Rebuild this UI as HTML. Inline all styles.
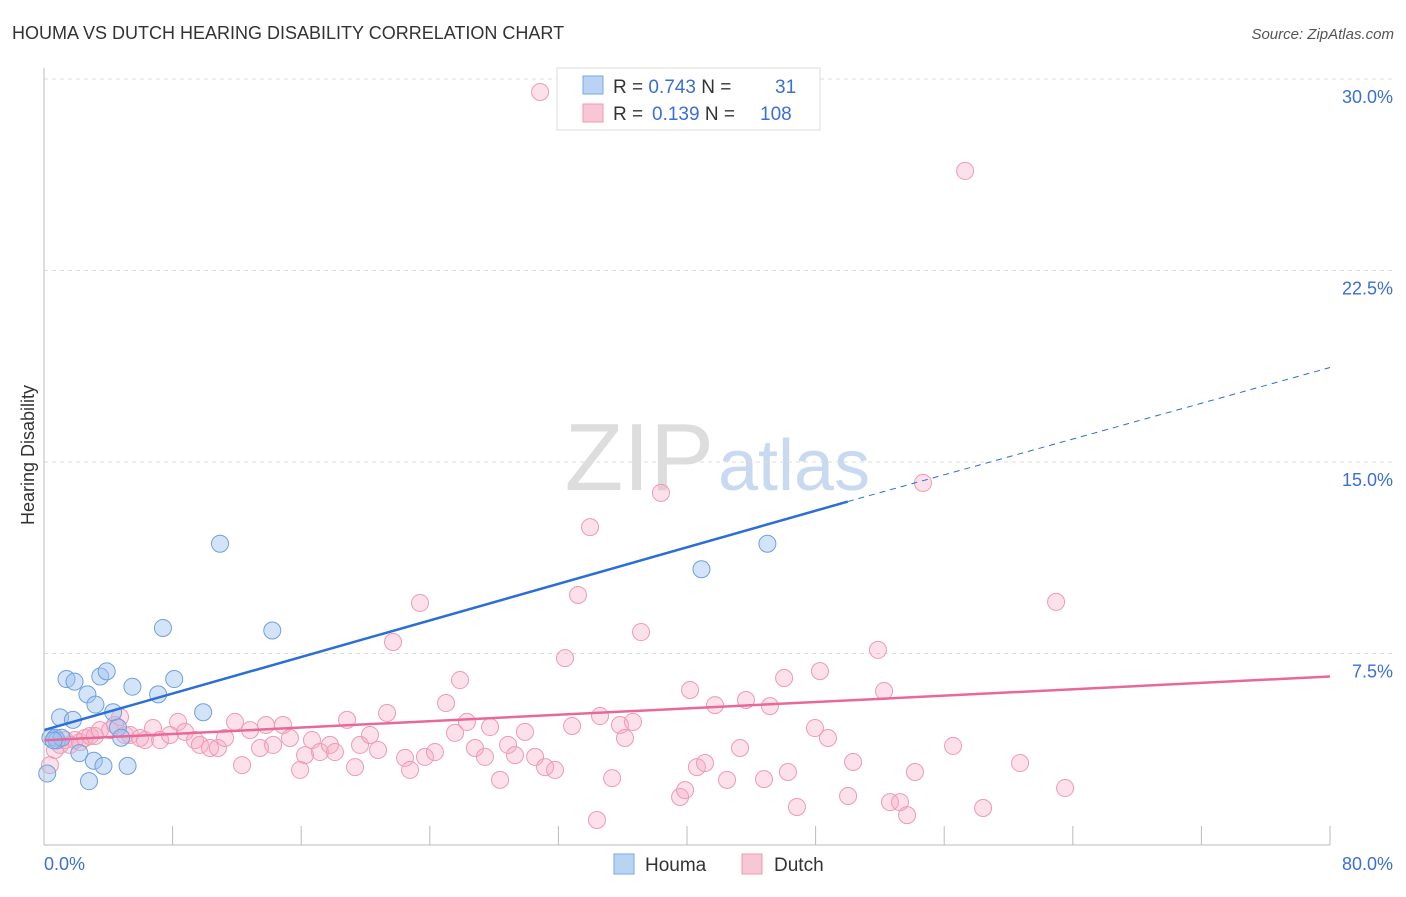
<!DOCTYPE html>
<html><head><meta charset="utf-8"><style>
body{margin:0;background:#fff;font-family:"Liberation Sans",sans-serif;}
svg text{font-family:"Liberation Sans",sans-serif;}
</style></head><body>
<svg id="c" width="1406" height="892">
<text x="12" y="39" font-size="18" fill="#333">HOUMA VS DUTCH HEARING DISABILITY CORRELATION CHART</text>
<text x="1394" y="39" font-size="15" fill="#555" font-style="italic" text-anchor="end">Source: ZipAtlas.com</text>
<text x="714" y="490" font-size="96" fill="#ddd" font-family="Liberation Serif" text-anchor="end">ZIP</text>
<text x="718" y="490" font-size="72" fill="#c8d9f0">atlas</text>
<text x="34" y="455" font-size="18" fill="#333" text-anchor="middle" transform="rotate(-90 34 455)">Hearing Disability</text>
<g id="grid"></g><g id="pts"></g><g id="lines"></g>
<line x1="44" y1="68" x2="44" y2="845" stroke="#bbb"/>
<line x1="44" y1="845" x2="1330" y2="845" stroke="#bbb"/>
<text x="44" y="870" font-size="18" fill="#3b6fd4">0.0%</text>
<text x="1393" y="870" font-size="18" fill="#3b6fd4" text-anchor="end">80.0%</text>
<g>
<rect x="557" y="68" width="263" height="62" fill="#fff" stroke="#ddd"/>
<rect x="583" y="76" width="20" height="18" fill="#b9d3f5" stroke="#7aa6e6"/>
<rect x="583" y="104" width="20" height="18" fill="#f9c6d5" stroke="#ee9ab3"/>
<text x="613" y="93" font-size="19" fill="#333">R = <tspan fill="#3b6fd4">0.743</tspan>   N = <tspan fill="#3b6fd4" x="775">31</tspan></text>
<text x="613" y="120" font-size="19" fill="#333">R = <tspan fill="#3b6fd4" x="652">0.139</tspan>   N = <tspan fill="#3b6fd4" x="760">108</tspan></text>
</g>
<g>
<rect x="614" y="854" width="20" height="20" fill="#b9d3f5" stroke="#7aa6e6"/>
<text x="645" y="871" font-size="19" fill="#333">Houma</text>
<rect x="742" y="854" width="20" height="20" fill="#f9c6d5" stroke="#ee9ab3"/>
<text x="774" y="871" font-size="19" fill="#333">Dutch</text>
</g>
</svg>
<script>
const yTicks=[7.5,15,22.5,30];
const xTicks=[0,8,16,24,32,40,48,56,64,72,80];
const houmaX=[0.2,0.4,0.7,0.8,1.0,1.4,1.8,1.9,2.2,2.7,2.8,3.1,3.2,3.5,3.7,3.9,4.3,4.6,4.8,5.2,5.5,7.1,7.4,8.1,9.9,10.95,14.2,40.9,45.0,1.1,0.6];
const houmaY=[2.8,4.2,4.2,4.1,5.0,6.5,4.9,6.4,3.6,5.9,2.5,3.3,5.5,6.6,3.1,6.8,5.2,4.6,4.2,3.1,6.2,5.9,8.5,6.5,5.2,11.8,8.4,10.8,11.8,4.2,4.1];
const dutchX=[0.37,0.68,1.0,1.31,1.62,1.93,2.24,2.55,2.86,3.17,3.48,4.11,4.42,4.73,5.04,5.35,5.97,6.28,6.78,7.22,7.84,8.34,8.77,9.39,9.70,10.33,10.82,11.26,11.88,12.32,12.82,13.44,13.81,14.25,14.87,15.30,15.93,16.24,16.67,17.17,17.79,18.10,18.85,19.35,19.66,20.28,20.78,21.34,21.71,22.46,22.77,23.39,23.70,24.32,25.01,25.57,25.88,26.31,26.81,27.43,27.75,28.37,28.87,29.30,29.92,30.55,30.86,31.17,31.79,32.41,32.85,33.22,33.97,34.40,34.59,35.34,35.83,36.14,36.64,37.14,38.38,39.57,39.88,40.19,40.62,41.12,41.74,42.49,43.30,43.67,44.79,45.16,46.04,46.28,46.84,47.96,48.27,48.77,50.02,50.33,51.88,52.26,52.63,53.25,53.69,54.18,54.68,56.55,57.30,58.42,60.72,62.96,63.52];
const dutchY=[3.13,3.72,3.92,4.11,3.92,4.11,4.03,4.19,4.27,4.27,4.50,4.50,4.70,5.01,4.31,4.31,4.19,4.11,4.58,4.11,4.31,4.82,4.43,4.11,3.92,3.80,3.80,4.19,4.82,3.13,4.50,3.80,4.70,3.92,4.70,4.19,2.94,3.52,4.11,3.64,3.92,3.64,4.90,3.05,3.92,4.31,3.72,5.17,7.95,3.41,2.94,9.48,3.45,3.64,5.56,4.39,6.46,4.82,3.80,3.45,4.62,2.55,3.92,3.52,4.43,3.45,29.49,3.05,2.94,7.32,4.66,9.79,12.45,0.98,5.05,2.62,4.70,4.19,4.82,8.34,13.79,1.88,2.15,6.07,3.05,3.21,5.48,2.55,3.80,5.68,2.58,5.44,6.54,2.86,1.49,4.58,6.81,4.19,1.92,3.25,7.64,6.03,1.68,1.68,1.17,2.86,14.18,3.88,26.40,1.45,3.21,9.52,2.23];
const houmaFit=[4.5,13.45];   // at x=0 and x=50 (solid end)
const houmaFitExt=18.7;       // at x=80
const dutchFit=[4.1,6.6];     // at x=0 and x=80
const X=v=>44+v/80*1286, Y=v=>845-v/7.5*191.5;
const NS='http://www.w3.org/2000/svg';
function mk(t,a,p){const e=document.createElementNS(NS,t);for(const k in a)e.setAttribute(k,a[k]);p.appendChild(e);return e;}
const g=document.getElementById('grid');
yTicks.forEach(v=>{
  const l=mk('line',{x1:44,x2:1394,y1:Y(v),y2:Y(v),stroke:'#ddd','stroke-dasharray':'4,4'},g);
  
  
  const t=mk('text',{x:1393,y:Y(v)+24,'font-size':18,fill:'#3b6fd4','text-anchor':'end'},g);
  t.textContent=v.toFixed(1)+'%';
  
  
});
xTicks.forEach(v=>{
  const l=mk('line',{x1:X(v),x2:X(v),y1:826,y2:845,stroke:'#bbb'},g);
  
  
});
const p=document.getElementById('pts');
dutchX.forEach((v,i)=>{
  const c=mk('circle',{cx:X(v),cy:Y(dutchY[i]),r:8.5,fill:'rgba(246,170,195,0.35)',stroke:'#ee9ab3','stroke-width':1},p);
  
  
});
houmaX.forEach((v,i)=>{
  const c=mk('circle',{cx:X(v),cy:Y(houmaY[i]),r:8.5,fill:'rgba(160,196,240,0.45)',stroke:'#6f9fe0','stroke-width':1},p);
  
  
});
const L=document.getElementById('lines');
let a=mk('line',{x1:X(0),y1:Y(houmaFit[0]),x2:X(50),y2:Y(houmaFit[1]),stroke:'#2a6fd6','stroke-width':2.5},L);


a=mk('line',{x1:X(50),y1:Y(houmaFit[1]),x2:X(80),y2:Y(houmaFitExt),stroke:'#2a6fd6','stroke-width':1,'stroke-dasharray':'6,5'},L);


a=mk('line',{x1:X(0),y1:Y(dutchFit[0]),x2:X(80),y2:Y(dutchFit[1]),stroke:'#e8689a','stroke-width':2.5},L);


</script>
</body></html>
